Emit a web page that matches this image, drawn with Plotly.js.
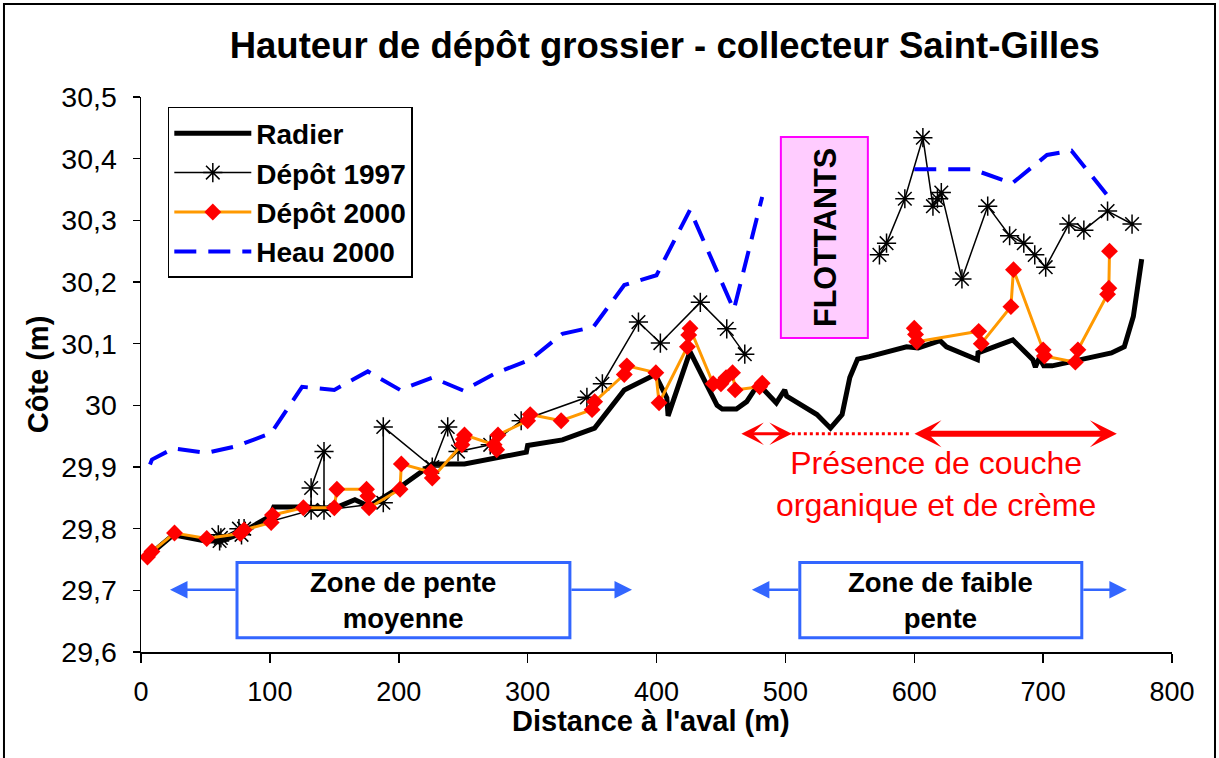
<!DOCTYPE html>
<html>
<head>
<meta charset="utf-8">
<script src="https://cdn.plot.ly/plotly-3.0.1.min.js"></script>
<style>
html,body{margin:0;padding:0;background:#fff;}
#chart{width:1219px;height:758px;}
</style>
</head>
<body>
<div id="chart"></div>
<script>
// ---- Data ----
const radierX = [5,8,25,50,62,75,100,103,128,150,166,177,200,226,251,278,299,300,327,352,375,399,408,409,426,447,451,462,470,476,482,493,499.5,501,524.5,535,544,550,556,565,589,594,603,620,625,649,649.5,676.5,692,694,697,700.5,707,753,763,770,776.5];
const radierY = [29.752,29.76,29.79,29.78,29.78,29.79,29.82,29.835,29.835,29.833,29.847,29.836,29.866,29.905,29.905,29.915,29.924,29.935,29.944,29.963,30.025,30.05,30.012,29.983,30.087,30.0,29.994,29.994,30.006,30.025,30.028,30.004,30.025,30.015,29.985,29.963,29.985,30.045,30.075,30.079,30.093,30.095,30.093,30.105,30.095,30.074,30.085,30.106,30.074,30.062,30.077,30.064,30.064,30.085,30.095,30.144,30.237];

const depot1997X = [60,61,62,76,78,80,132,132,142,142,188,188,226,238,246,271,295,346,358,386,403,434,454.5,468.5,520,573,578.5,592.7,606.7,614.5,618,621,637,657,674,685,693.5,702,720,731.6,750,769];
const depot1997Y = [29.79,29.78,29.785,29.80,29.79,29.80,29.83,29.866,29.925,29.83,29.842,29.965,29.90,29.965,29.925,29.936,29.975,30.013,30.035,30.135,30.101,30.167,30.124,30.083,null,30.244,30.263,30.335,30.434,30.323,30.335,30.345,30.205,30.323,30.275,30.263,30.244,30.224,30.294,30.284,30.315,30.294];

const depot2000X = [5,8.5,26,51,77,80,101,102,126,150,152,175,176,177,201,202,225,226,249,250,251,274,276,277,300,302,326,350,352,375,377,399.5,402,424,425,426,444,450,454,459,461,480,482,540,600,601,602,650,652,675,677,700,701,725,727,750,751,751.5];
const depot2000Y = [29.754,29.763,29.793,29.784,29.792,29.798,29.81,29.822,29.834,29.834,29.864,29.864,29.853,29.834,29.864,29.905,29.892,29.882,29.936,29.945,29.952,29.936,29.928,29.952,29.975,29.985,29.975,29.993,30.006,30.05,30.064,30.053,30.004,30.095,30.114,30.125,30.035,30.035,30.045,30.053,30.025,30.03,30.036,null,30.125,30.115,30.103,30.12,30.10,30.16,30.22,30.09,30.08,30.07,30.09,30.18,30.19,30.25];

const heauX = [7,8.5,25,51,74.5,101,125,150,176,201,226,250,276,302,327,351,375,391,400,426,460,482,540,600,645,676,703,722,752];
const heauY = [29.904,29.912,29.93,29.923,29.934,29.955,30.03,30.025,30.055,30.025,30.045,30.024,30.053,30.074,30.116,30.127,30.195,30.206,30.211,30.317,30.155,30.338,null,30.383,30.383,30.36,30.406,30.413,30.335];

const seriesNames = ['Radier','Dépôt 1997','Dépôt 2000','Heau 2000'];
const xTickVals = [0,100,200,300,400,500,600,700,800];
const yTickVals = [29.6,29.7,29.8,29.9,30.0,30.1,30.2,30.3,30.4,30.5];

const FONT = 'Liberation Sans, Arial, Helvetica, sans-serif';
const BLUE = '#3366FF';

const traces = [
  {x: radierX, y: radierY, name: seriesNames[0], type:'scatter', mode:'lines',
   line:{color:'#000000', width:5}},
  {x: depot1997X, y: depot1997Y, name: seriesNames[1], type:'scatter', mode:'lines+markers',
   line:{color:'#000000', width:1.5},
   marker:{symbol:'asterisk-open', size:16, color:'#000000', line:{color:'#000000', width:1.5}}},
  {x: depot2000X, y: depot2000Y, name: seriesNames[2], type:'scatter', mode:'lines+markers',
   line:{color:'#FF9900', width:3},
   marker:{symbol:'diamond', size:13, color:'#FF0000'}},
  {x: heauX, y: heauY, name: seriesNames[3], type:'scatter', mode:'lines',
   line:{color:'#0000FF', width:4, dash:'22px,12px'}}
];

function arrow(x, ax, y, color, width, head, size){
  return {x:x, y:y, ax:ax, ay:y, xref:'x', yref:'y', axref:'x', ayref:'y',
    text:'', showarrow:true, arrowcolor:color, arrowwidth:width,
    arrowhead:head, arrowsize:size, startarrowhead:head, startarrowsize:size,
    arrowside:'end', standoff:0, startstandoff:0};
}
function dblArrow(x, ax, y, color, width, head, size){
  const a = arrow(x, ax, y, color, width, head, size);
  a.arrowside = 'end+start';
  return a;
}

const layout = {
  width:1219, height:758,
  margin:{l:141, r:47, t:97, b:106, pad:0},
  paper_bgcolor:'#ffffff', plot_bgcolor:'#ffffff',
  separators:', ',
  font:{family:FONT, color:'#000000', size:20},
  showlegend:true,
  title:{text:'<b>Hauteur de dépôt grossier - collecteur Saint-Gilles</b>',
    font:{family:FONT, size:36.5, color:'#000000'},
    xref:'paper', x:0.508, xanchor:'center', yref:'container', y:0.94, yanchor:'middle'},
  xaxis:{range:[0,800], tickvals:xTickVals, showline:true, linecolor:'#000000', linewidth:1.5,
    ticks:'outside', ticklen:9, tickwidth:1.5, tickcolor:'#000000',
    showgrid:false, zeroline:false, tickfont:{family:FONT, size:27, color:'#000000'},
    ticklabelstandoff:6},
  yaxis:{range:[29.6,30.5], tickvals:yTickVals, showline:true, linecolor:'#000000', linewidth:1.5,
    ticks:'outside', ticklen:7, tickwidth:1.5, tickcolor:'#000000',
    showgrid:false, zeroline:false, tickfont:{family:FONT, size:28.5, color:'#000000'},
    ticklabelstandoff:10,
    title:{text:'<b>Côte (m)</b>', font:{family:FONT, size:29, color:'#000000'}, standoff:4}},
  legend:{x:0.026, y:0.982, xanchor:'left', yanchor:'top', bgcolor:'#ffffff',
    bordercolor:'#000000', borderwidth:1.5,
    font:{family:FONT, size:28, color:'#000000', weight:'bold'},
    tracegroupgap:0, itemwidth:77},
  shapes:[
    // outer chart frame
    {type:'rect', xref:'paper', yref:'paper', x0:-0.1329, x1:1.0417, y0:-0.25, y1:1.1676,
     line:{color:'#000000', width:2}, fillcolor:'rgba(0,0,0,0)', layer:'above'},
    // FLOTTANTS box
    {type:'rect', xref:'x', yref:'y', x0:496.5, x1:564, y0:30.109, y1:30.435,
     fillcolor:'#FFCCFF', line:{color:'#FF00FF', width:2}, layer:'above'},
    // zone boxes
    {type:'rect', xref:'x', yref:'y', x0:74.5, x1:332.8, y0:29.623, y1:29.745,
     fillcolor:'#ffffff', line:{color:BLUE, width:3}, layer:'above'},
    {type:'rect', xref:'x', yref:'y', x0:511.2, x1:730, y0:29.623, y1:29.745,
     fillcolor:'#ffffff', line:{color:BLUE, width:3}, layer:'above'},
    // dotted red link
    {type:'line', xref:'x', yref:'y', x0:505, x1:598, y0:29.954, y1:29.954,
     line:{color:'#FF0000', width:3, dash:'dot'}}
  ],
  annotations:[
    {x:0.4947, y:-0.1243, xref:'paper', yref:'paper', xanchor:'center', yanchor:'middle',
     text:"<b>Distance à l'aval (m)</b>", showarrow:false,
     font:{family:FONT, size:29, color:'#000000'}},
    {x:530.2, y:30.272, xref:'x', yref:'y', text:'<b>FLOTTANTS</b>', showarrow:false,
     textangle:-90, font:{family:FONT, size:30.5, color:'#000000'}},
    dblArrow(505, 464.7, 29.954, '#FF0000', 3, 3, 1.25),
    dblArrow(757.2, 599, 29.954, '#FF0000', 6, 3, 0.75),
    {x:616.8, y:29.873, xref:'x', yref:'y', text:'Présence de couche<br>organique et de crème',
     showarrow:false, font:{family:FONT, size:32, color:'#FF0000'}},
    {x:203.6, y:29.684, xref:'x', yref:'y', text:'<b>Zone de pente<br>moyenne</b>',
     showarrow:false, font:{family:FONT, size:27.5, color:'#000000'}},
    {x:620.6, y:29.684, xref:'x', yref:'y', text:'<b>Zone de faible<br>pente</b>',
     showarrow:false, font:{family:FONT, size:27.5, color:'#000000'}},
    arrow(22.5, 74.5, 29.701, BLUE, 2.5, 2, 1.4),
    arrow(381, 332.8, 29.701, BLUE, 2.5, 2, 1.4),
    arrow(474, 511.2, 29.701, BLUE, 2.5, 2, 1.4),
    arrow(765, 730, 29.701, BLUE, 2.5, 2, 1.4)
  ]
};

Plotly.newPlot('chart', traces, layout, {displayModeBar:false, staticPlot:true});
</script>
</body>
</html>
